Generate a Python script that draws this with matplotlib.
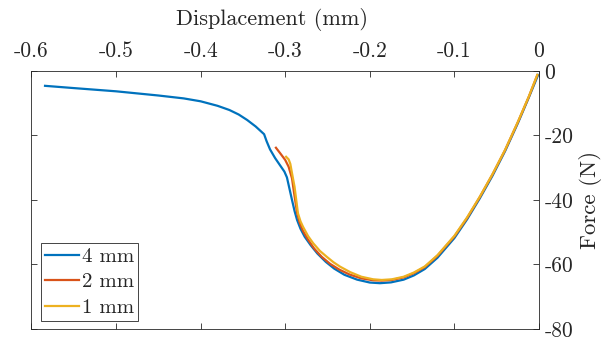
import matplotlib
matplotlib.use("Agg")
import matplotlib.pyplot as plt

plt.rcParams["font.family"] = "serif"
plt.rcParams["font.serif"] = ["cmr10", "DejaVu Serif"]
plt.rcParams["mathtext.fontset"] = "cm"
plt.rcParams["axes.formatter.use_mathtext"] = True
plt.rcParams["axes.unicode_minus"] = False

# Force-displacement curves for three mesh sizes
disp_4mm = [-0.584, -0.55, -0.50, -0.45, -0.42, -0.40, -0.38, -0.366, -0.355,
            -0.345, -0.335, -0.325, -0.322, -0.318, -0.312, -0.306, -0.301,
            -0.298, -0.295, -0.292, -0.289, -0.286, -0.282, -0.277, -0.270,
            -0.262, -0.252, -0.242, -0.230, -0.215, -0.200, -0.188, -0.175,
            -0.160, -0.148, -0.135, -0.120, -0.100, -0.085, -0.070, -0.055,
            -0.040, -0.025, -0.012, -0.001]
force_4mm = [-4.6, -5.3, -6.3, -7.6, -8.5, -9.4, -10.8, -12.1, -13.5,
             -15.2, -17.2, -19.6, -21.8, -24.3, -27.0, -29.3, -31.2,
             -33.0, -36.5, -40.0, -43.4, -46.2, -48.9, -51.4, -54.0,
             -56.6, -59.2, -61.3, -63.2, -64.7, -65.6, -65.8, -65.55,
             -64.7, -63.4, -61.4, -57.9, -51.8, -46.0, -39.5, -32.5,
             -24.8, -16.2, -8.2, -1.2]

disp_2mm = [-0.311, -0.306, -0.300, -0.296, -0.292, -0.290, -0.288, -0.286,
            -0.283, -0.279, -0.273, -0.266, -0.257, -0.247, -0.236, -0.224,
            -0.210, -0.196, -0.186, -0.174, -0.160, -0.148, -0.135, -0.120,
            -0.100, -0.085, -0.070, -0.055, -0.040, -0.025, -0.012, -0.002]
force_2mm = [-23.8, -25.5, -27.6, -29.7, -33.3, -37.0, -40.5, -44.0,
             -47.0, -49.6, -52.3, -55.0, -57.6, -59.8, -61.6, -63.1,
             -64.3, -64.9, -65.0, -64.8, -64.0, -62.7, -60.8, -57.3,
             -51.3, -45.6, -39.1, -32.1, -24.5, -15.9, -8.0, -1.3]

disp_1mm = [-0.299, -0.296, -0.294, -0.292, -0.289, -0.287, -0.285, -0.282,
            -0.279, -0.273, -0.267, -0.259, -0.251, -0.243, -0.235, -0.223,
            -0.210, -0.196, -0.186, -0.174, -0.160, -0.148, -0.135, -0.120,
            -0.100, -0.085, -0.070, -0.055, -0.040, -0.025, -0.012, -0.002]
force_1mm = [-26.6, -27.4, -28.8, -31.7, -35.9, -40.0, -44.1, -46.6,
             -48.3, -51.2, -53.4, -55.8, -57.6, -59.3, -60.7, -62.4,
             -63.8, -64.6, -64.8, -64.6, -63.8, -62.5, -60.6, -57.1,
             -51.1, -45.4, -39.0, -32.0, -24.4, -15.8, -7.9, -1.2]

series_labels = ["4 mm", "2 mm", "1 mm"]
x_ticks = [-0.6, -0.5, -0.4, -0.3, -0.2, -0.1, 0]
x_tick_labels = ["-0.6", "-0.5", "-0.4", "-0.3", "-0.2", "-0.1", "0"]
y_ticks = [-80, -60, -40, -20, 0]
y_tick_labels = ["-80", "-60", "-40", "-20", "0"]

colors = ["#0072BD", "#D95319", "#EDB120"]
axis_color = "#262626"

fig = plt.figure(figsize=(6.08, 3.40), dpi=100)
ax = fig.add_axes([0.0518, 0.0324, 0.8347, 0.7588])

for xs, ys, c, lab in zip([disp_4mm, disp_2mm, disp_1mm],
                          [force_4mm, force_2mm, force_1mm],
                          colors, series_labels):
    ax.plot(xs, ys, color=c, lw=1.6, label=lab, solid_joinstyle="round")

ax.set_xlim(-0.6, 0)
ax.set_ylim(-80, 0)
ax.set_xticks(x_ticks)
ax.set_xticklabels(x_tick_labels)
ax.set_yticks(y_ticks)
ax.set_yticklabels(y_tick_labels)

ax.xaxis.set_ticks_position("both")
ax.yaxis.set_ticks_position("both")
ax.xaxis.set_label_position("top")
ax.yaxis.set_label_position("right")
ax.tick_params(axis="x", labeltop=True, labelbottom=False, pad=7)
ax.tick_params(axis="y", labelright=True, labelleft=False, pad=4)
ax.tick_params(direction="in", length=4.5, width=0.6, colors=axis_color,
               labelsize=15.5)
for s in ax.spines.values():
    s.set_color(axis_color)
    s.set_linewidth(0.6)

ax.set_xlabel("Displacement (mm)", fontsize=16, color=axis_color)
ax.xaxis.set_label_coords(0.473, 1.18)
ax.set_ylabel("Force (N)", fontsize=16.5, color=axis_color, labelpad=4,
              rotation=90)

leg = ax.legend(loc="lower left", bbox_to_anchor=(0.0178, 0.031),
                fontsize=15, handlelength=1.63, handletextpad=0.15,
                borderpad=0.2, labelspacing=0.33, borderaxespad=0,
                fancybox=False, framealpha=1)
leg.get_frame().set_edgecolor(axis_color)
leg.get_frame().set_linewidth(0.6)
for t in leg.get_texts():
    t.set_color(axis_color)

fig.savefig("out.png", dpi=100)
